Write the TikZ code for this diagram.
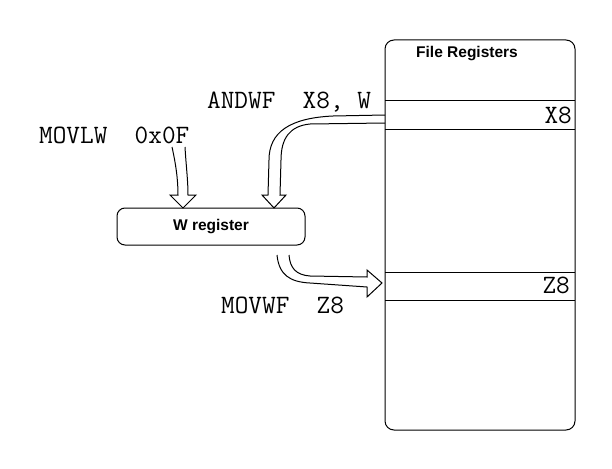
\documentclass[tikz,border=0pt]{standalone}
\usepackage{fontspec}
\newfontfamily\boxfont{Liberation Sans}
\usetikzlibrary{positioning,calc}

\begin{document}
\begin{tikzpicture}[x=1pt,y=-1pt,
    code/.style={font=\ttfamily\fontsize{26.5}{26.5}\selectfont,inner sep=0pt},
    boxlabel/.style={font=\boxfont\bfseries\fontsize{15.5}{15.5}\selectfont,inner sep=0pt},
    blockarrow/.style={draw=black,line width=1pt,line join=miter}]

    \useasboundingbox (0,0) rectangle (612,468);

    % file registers
    \draw[line width=1pt,rounded corners=9pt] (385,40) rectangle (575,430);
    \draw[line width=1pt] (385,101) -- (575,101) (385,129) -- (575,129); % X8 sor
    \draw[line width=1pt] (385,272) -- (575,272) (385,300) -- (575,300); % Z8 sor
    \node[boxlabel,anchor=base west] (filetitle) at (416,58) {File Registers};
    \node[code,anchor=base east] (xeight) at (572,123) {X8};
    \node[code,anchor=base east] (zeight) at (570,293) {Z8};

    % W register
    \node[draw,line width=1pt,rounded corners=8pt,minimum width=188pt,minimum height=37pt,
          boxlabel] (wreg) at (211,226.5) {W register};

    % utasitasok
    \node[code,anchor=base west] (movlw) at (39,143) {MOVLW\ \ 0x0F};
    \node[code,anchor=base west] (andwf) at (207,108) {ANDWF\ \ X8,\ W};
    \node[code,anchor=base west] (movwf) at (221,313) {MOVWF\ \ Z8};

    % MOVLW -> W
    \draw[blockarrow] (172,147) .. controls (176,165) and (178,180) .. (178,195)
        -- (170,195) -- (183,208) -- (196,195) -- (188,195)
        .. controls (188,180) and (186,165) .. (185,147);

    % X8 -> W
    \draw[blockarrow] (385,115) -- (333,116) .. controls (290,118) and (269,132) .. (269,160)
        -- (268,195) -- (262,195) -- (274,208) -- (286,195) -- (280,195) -- (281,160)
        .. controls (281,138) and (290,126) .. (310,124) -- (385,123);

    % W -> Z8
    \draw[blockarrow] (277,255) .. controls (279,275) and (290,282) .. (310,283)
        -- (367,287) -- (367,297) -- (382,283) -- (367,270) -- (367,277) -- (310,276)
        .. controls (296,275) and (290,268) .. (289,255);

\end{tikzpicture}
\end{document}
